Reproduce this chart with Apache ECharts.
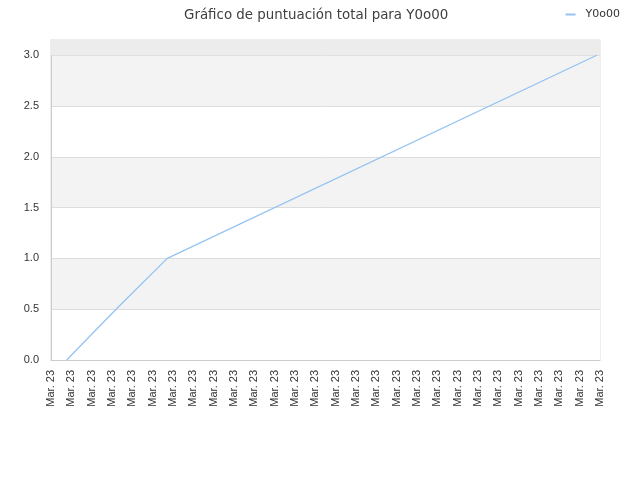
<!DOCTYPE html>
<html>
<head>
<meta charset="utf-8">
<script src="https://cdn.jsdelivr.net/npm/echarts@6/dist/echarts.min.js"></script>
<style>html,body{margin:0;padding:0;background:#fff}#c{width:640px;height:480px}</style>
</head>
<body>
<div id="c"></div>
<script>
var tickLabels = ["Mar. 23","Mar. 23","Mar. 23","Mar. 23","Mar. 23","Mar. 23","Mar. 23","Mar. 23","Mar. 23","Mar. 23","Mar. 23","Mar. 23","Mar. 23","Mar. 23","Mar. 23","Mar. 23","Mar. 23","Mar. 23","Mar. 23","Mar. 23","Mar. 23","Mar. 23","Mar. 23","Mar. 23","Mar. 23","Mar. 23","Mar. 23","Mar. 23"];
var seriesName = "Y0o00";
var xPositions = [0.77, 3.2, 5.72, 26.84];
var scores = [0.0, 0.5, 1.0, 3.0];
var yMax = 3.15;

var data = xPositions.map(function (x, i) { return [x, scores[i]]; });
var chart = echarts.init(document.getElementById('c'));
chart.setOption({
  animation: false,
  title: {
    text: 'Gráfico de puntuación total para ' + seriesName,
    left: 179, top: 4,
    textStyle: { fontFamily: 'DejaVu Sans', fontSize: 13.4, fontWeight: 'normal', color: '#404040' }
  },
  legend: {
    right: 15, top: 4,
    itemWidth: 10, itemHeight: 2, icon: 'rect',
    textStyle: { fontFamily: 'DejaVu Sans', fontSize: 11, color: '#333', padding: [0, 0, 3, 5] },
    data: [seriesName]
  },
  grid: { left: 51, right: 40, top: 40, bottom: 120, show: true, borderColor: '#ddd', borderWidth: 1, backgroundColor: 'transparent' },
  xAxis: {
    type: 'value', min: 0, max: tickLabels.length - 1, interval: 1,
    axisLine: { show: true, lineStyle: { color: '#ccc' } },
    axisTick: { show: false },
    splitLine: { show: false },
    axisLabel: {
      rotate: 90, margin: 10, fontFamily: 'Liberation Sans', fontSize: 11, color: '#333',
      showMinLabel: true, showMaxLabel: true,
      formatter: function (v) { return tickLabels[Math.round(v)] || ''; }
    }
  },
  yAxis: {
    type: 'value', min: 0, max: yMax, interval: 0.5,
    axisLine: { show: true, lineStyle: { color: '#ccc' } },
    axisTick: { show: false },
    splitLine: { show: true, lineStyle: { color: '#ddd' } },
    splitArea: { show: true, areaStyle: { color: ['#ffffff', '#f3f3f3'] } },
    axisLabel: {
      margin: 12, fontFamily: 'Liberation Sans', fontSize: 11, color: '#333',
      showMaxLabel: false,
      formatter: function (v) { return v > 3.01 ? '' : v.toFixed(1); }
    }
  },
  series: [{
    name: seriesName, type: 'line', data: data,
    symbol: 'none', showSymbol: false,
    lineStyle: { color: '#94c3f2', width: 1.3 },
    itemStyle: { color: '#94c3f2' },
    markArea: {
      silent: true,
      itemStyle: { color: '#ececec' },
      data: [[{ yAxis: 3.0 }, { yAxis: yMax }]]
    }
  }]
});
</script>
</body>
</html>
